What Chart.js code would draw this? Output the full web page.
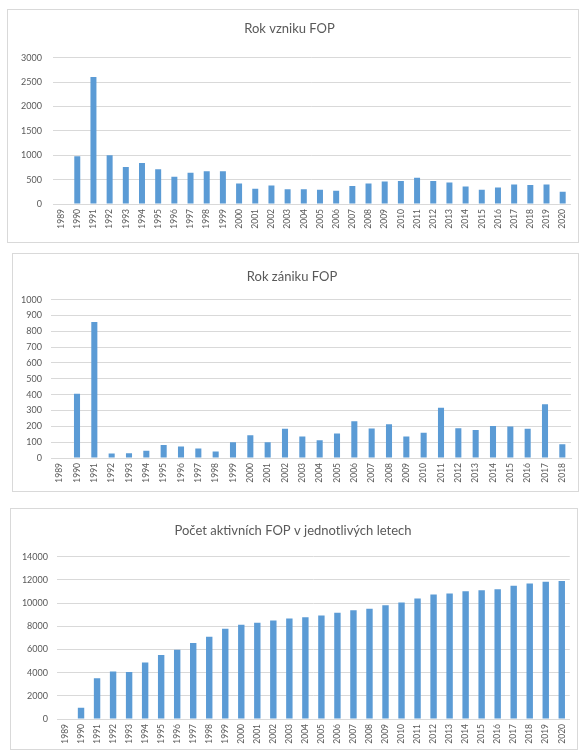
<!DOCTYPE html>
<html>
<head>
<meta charset="utf-8">
<script src="https://cdn.jsdelivr.net/npm/chart.js@4"></script>
<style>
  html, body { margin: 0; padding: 0; background: #ffffff; }
  body { width: 587px; height: 753px; position: relative; overflow: hidden; }
  .panel { position: absolute; border: 1px solid #d9d9d9; box-sizing: border-box; background: #fff; }
  .panel canvas { position: absolute; left: 0; top: 0; }
</style>
</head>
<body>
<div class="panel" id="p1" style="left:7px; top:9px; width:572px; height:234px;"><canvas id="c1"></canvas></div>
<div class="panel" id="p2" style="left:12px; top:253px; width:567px; height:239px;"><canvas id="c2"></canvas></div>
<div class="panel" id="p3" style="left:10px; top:508px; width:568px; height:242px;"><canvas id="c3"></canvas></div>
<script>
// ---- data ----
const yearsFounded = ["1989","1990","1991","1992","1993","1994","1995","1996","1997","1998","1999","2000","2001","2002","2003","2004","2005","2006","2007","2008","2009","2010","2011","2012","2013","2014","2015","2016","2017","2018","2019","2020"];
const founded = [0, 980, 2600, 1000, 760, 840, 710, 560, 640, 670, 670, 420, 310, 380, 300, 300, 290, 270, 370, 420, 460, 470, 540, 470, 440, 360, 290, 340, 400, 390, 400, 250];

const yearsClosed = ["1989","1990","1991","1992","1993","1994","1995","1996","1997","1998","1999","2000","2001","2002","2003","2004","2005","2006","2007","2008","2009","2010","2011","2012","2013","2014","2015","2016","2017","2018"];
const closed = [0, 405, 858, 28, 30, 46, 82, 72, 60, 41, 99, 143, 99, 184, 135, 112, 155, 232, 186, 213, 136, 160, 318, 188, 177, 202, 199, 184, 340, 87];

const yearsActive = ["1989","1990","1991","1992","1993","1994","1995","1996","1997","1998","1999","2000","2001","2002","2003","2004","2005","2006","2007","2008","2009","2010","2011","2012","2013","2014","2015","2016","2017","2018","2019","2020"];
const active = [0, 960, 3510, 4090, 4060, 4870, 5510, 5970, 6560, 7100, 7770, 8120, 8300, 8500, 8670, 8780, 8930, 9170, 9370, 9510, 9800, 10040, 10380, 10730, 10820, 11020, 11100, 11190, 11480, 11690, 11830, 11890];

const titles = ["Rok vzniku FOP", "Rok zániku FOP", "Počet aktivních FOP v jednotlivých letech"];

// ---- drawing ----
const FONT = "Lato, 'Open Sans', 'Liberation Sans', sans-serif";
const TXT = "#595959";
const BAR = "#5b9bd5";
const GRID = "#d9d9d9";

function makeChart(id, w, h, labels, values, title, yMax, yStep, cfg) {
  const cv = document.getElementById(id);
  cv.width = w; cv.height = h;
  cv.style.width = w + "px"; cv.style.height = h + "px";
  return new Chart(cv, {
    type: "bar",
    data: {
      labels: labels,
      datasets: [{ data: values, backgroundColor: BAR, borderWidth: 0,
                   barPercentage: cfg.barPct, categoryPercentage: 1.0 }]
    },
    options: {
      responsive: false,
      animation: false,
      devicePixelRatio: 1,
      layout: { padding: { left: 0, right: cfg.padRight, top: 0, bottom: 0 } },
      plugins: {
        legend: { display: false },
        tooltip: { enabled: false },
        title: {
          display: true, text: title, color: TXT,
          font: { family: FONT, size: 13, weight: "normal", lineHeight: 1.2 },
          padding: { top: cfg.titleTop, bottom: cfg.titleBottom }
        }
      },
      scales: {
        x: {
          grid: { display: false, drawTicks: false },
          border: { display: true, color: GRID, width: 1 },
          ticks: {
            autoSkip: false, maxRotation: 90, minRotation: 90, padding: 5,
            color: TXT, font: { family: FONT, size: 8.5 }
          },
          afterFit: (s) => { s.height = cfg.xHeight; }
        },
        y: {
          min: 0, max: yMax,
          grid: { color: GRID, lineWidth: 1, drawTicks: false },
          border: { display: false },
          ticks: {
            stepSize: yStep, padding: cfg.yPad, color: TXT,
            font: { family: FONT, size: 9 },
            callback: (v) => String(v)
          },
          afterFit: (s) => { s.width = cfg.yWidth; }
        }
      }
    }
  });
}

makeChart("c1", 570, 232, yearsFounded, founded, titles[0], 3000, 500,
  { barPct: 0.37, padRight: 7, titleTop: 11, titleBottom: 21, xHeight: 38, yWidth: 45, yPad: 11 });
makeChart("c2", 565, 237, yearsClosed, closed, titles[1], 1000, 100,
  { barPct: 0.35, padRight: 7, titleTop: 15, titleBottom: 15, xHeight: 33, yWidth: 38, yPad: 9 });
makeChart("c3", 566, 240, yearsActive, active, titles[2], 14000, 2000,
  { barPct: 0.4, padRight: 2, titleTop: 14, titleBottom: 18, xHeight: 30, yWidth: 46, yPad: 9 });
</script>
</body>
</html>
